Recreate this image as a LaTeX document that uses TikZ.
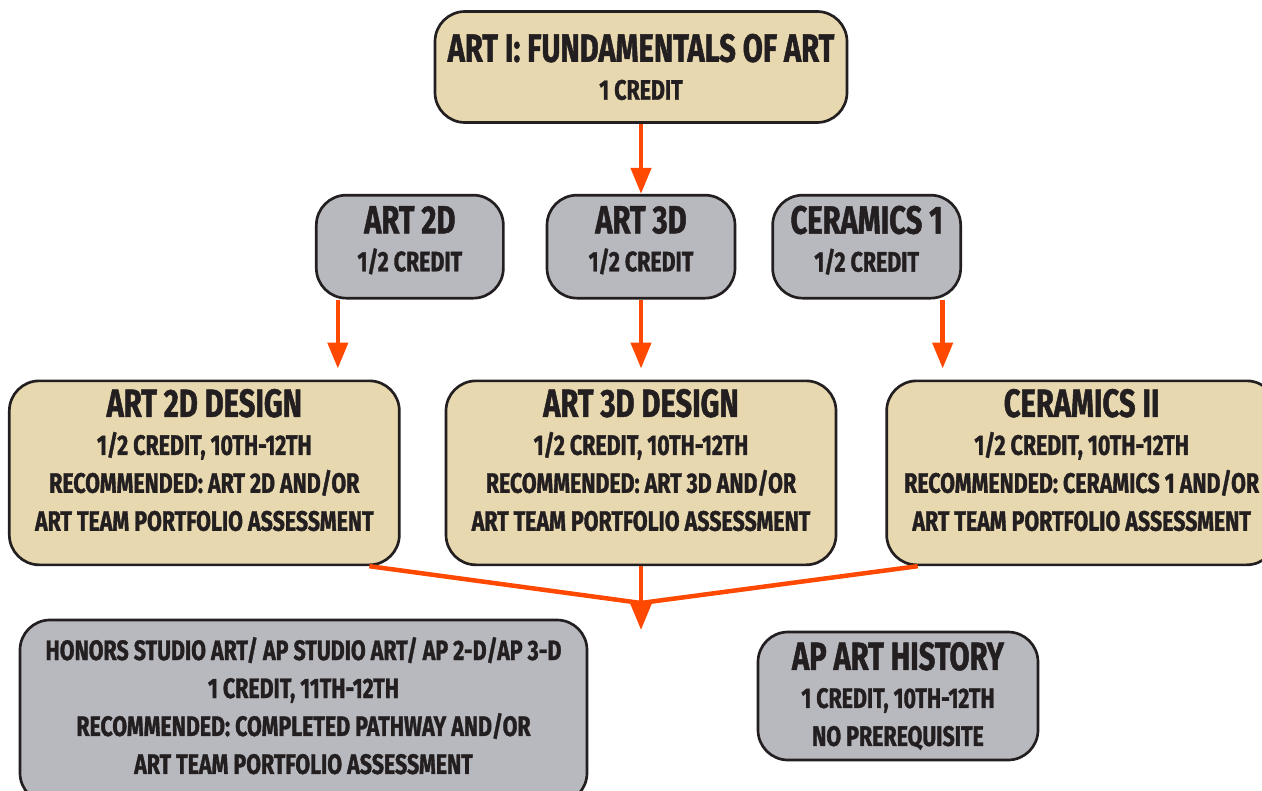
\documentclass[tikz,border=0pt]{standalone}
\usepackage{fontspec}
\setmainfont{Fira Sans}[FakeStretch=0.76, FakeBold=1.2]
\newfontfamily\titlefont{Fira Sans}[FakeStretch=0.74, FakeBold=1.2]
\usetikzlibrary{positioning,arrows.meta}

\definecolor{tanfill}{RGB}{232,216,176}
\definecolor{grayfill}{RGB}{184,185,190}
\definecolor{edge}{RGB}{35,31,32}
\definecolor{flow}{RGB}{255,72,0}

\newcommand{\crsname}[1]{{\titlefont\fontsize{28}{27}\selectfont #1}}

\begin{document}
\begin{tikzpicture}[
    node distance=1cm,
    tanbox/.style={rectangle, draw=edge, line width=1.9pt, fill=tanfill, rounded corners=0.75cm, align=center, text=edge, inner sep=0pt, font=\bfseries\fontsize{20}{27}\selectfont},
    graybox/.style={tanbox, fill=grayfill},
    arrow/.style={draw=flow, line width=3.2pt, -{Triangle[width=0.5cm,length=0.65cm]}},
    link/.style={draw=flow, line width=3.2pt}
]
    \useasboundingbox (0,0) rectangle (31.55,-19.775);

    \node [tanbox, minimum width=10.3cm, minimum height=2.775cm] (art1) at (16.025,-1.675) {\crsname{ART I: FUNDAMENTALS OF ART}\\1 CREDIT};

    \node [graybox, minimum width=4.7cm, minimum height=2.575cm, text depth=0.4cm, below=1.75cm of art1] (art3d) {\crsname{ART 3D}\\1/2 CREDIT};
    \node [graybox, minimum width=4.675cm, minimum height=2.575cm, text depth=0.4cm, left=1.025cm of art3d] (art2d) {\crsname{ART 2D}\\1/2 CREDIT};
    \node [graybox, minimum width=4.7cm, minimum height=2.575cm, text depth=0.4cm, right=0.875cm of art3d] (cer1) {\crsname{CERAMICS 1}\\1/2 CREDIT};

    \node [tanbox, minimum width=9.75cm, minimum height=4.6cm, text depth=0.65cm, below=2cm of art3d] (art3dd) {\crsname{ART 3D DESIGN}\\1/2 CREDIT, 10TH-12TH\\RECOMMENDED: ART 3D AND/OR\\ART TEAM PORTFOLIO ASSESSMENT};
    \node [tanbox, minimum width=9.75cm, minimum height=4.6cm, text depth=0.65cm, left=1.1cm of art3dd] (art2dd) {\crsname{ART 2D DESIGN}\\1/2 CREDIT, 10TH-12TH\\RECOMMENDED: ART 2D AND/OR\\ART TEAM PORTFOLIO ASSESSMENT};
    \node [tanbox, minimum width=9.75cm, minimum height=4.6cm, text depth=0.65cm, right=1.2cm of art3dd] (cer2) {\crsname{CERAMICS II}\\1/2 CREDIT, 10TH-12TH\\RECOMMENDED: CERAMICS 1 AND/OR\\ART TEAM PORTFOLIO ASSESSMENT};

    \node [graybox, minimum width=14.175cm, minimum height=4.575cm, text depth=0.3cm] (honors) at (7.5875,-17.7875) {HONORS STUDIO ART/ AP STUDIO ART/ AP 2-D/AP 3-D\\1 CREDIT, 11TH-12TH\\RECOMMENDED: COMPLETED PATHWAY AND/OR\\ART TEAM PORTFOLIO ASSESSMENT};
    \node [graybox, minimum width=7cm, minimum height=3.2cm] (aph) at (22.45,-17.4) {\crsname{AP ART HISTORY}\\1 CREDIT, 10TH-12TH\\NO PREREQUISITE};

    \draw [arrow] (art1) -- (art3d);
    \draw [arrow, shorten >=0.275cm] ([xshift=-1.8cm]art2d.south) -- ([xshift=-1.8cm]art2d.south |- art2dd.north);
    \draw [arrow, shorten >=0.275cm] (art3d) -- (art3dd);
    \draw [arrow, shorten >=0.275cm] ([xshift=1.9cm]cer1.south) -- ([xshift=1.9cm]cer1.south |- cer2.north);

    \coordinate (join) at (16.025,-15.075);
    \coordinate (tip) at (16.025,-15.75);
    \draw [link] ([xshift=4.125cm]art2dd.south) -- (join);
    \draw [link] ([xshift=-4.1cm]cer2.south) -- (join);
    \draw [arrow] (art3dd) -- (tip);
\end{tikzpicture}
\end{document}
